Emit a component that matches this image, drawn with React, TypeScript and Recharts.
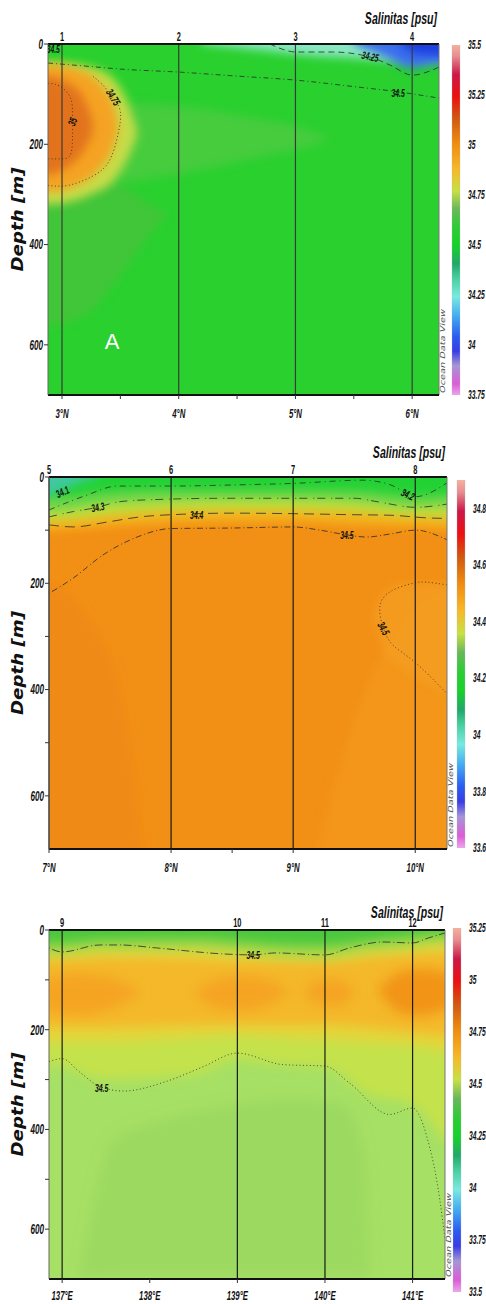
import React from 'react'
import { ComposedChart, Area, Line, Scatter, XAxis, YAxis, ReferenceLine, BarChart, Bar } from 'recharts'

// ---------- section 1 : 3°N – 6°N ----------
const p1Stations = [3, 4, 5, 6]
const p1StationIds = ['1', '2', '3', '4']
const p1XTicks = [3, 3.5, 4, 4.5, 5, 5.5, 6]
const p1DepthTicks = [0, 200, 400, 600]
const p1ScaleTicks = [33.75, 34, 34.25, 34.5, 34.75, 35, 35.25, 35.5]
const p1Range = [33.75, 35.5]

// field patches (x in °N, depths in m)
const p1DeepX = [2.6, 2.88, 3.2, 3.5, 3.75, 3.9]
const p1DeepTop = [260, 260, 260, 280, 320, 340]
const p1DeepBot = [560, 560, 540, 460, 380, 340]
const p1TongueX = [3.3, 3.7, 4.2, 4.7, 5.1, 5.3]
const p1TongueTop = [120, 120, 130, 150, 170, 190]
const p1TongueBot = [280, 270, 250, 225, 205, 190]
const p1BlobX = [2.6, 2.88, 3.25, 3.45, 3.56, 3.64]
const p1BlobTop = [36, 36, 46, 72, 115, 170]
const p1BlobBot = [320, 320, 300, 270, 230, 185]
const p1OrangeX = [2.6, 2.88, 3.15, 3.32, 3.44, 3.48]
const p1OrangeTop = [42, 42, 52, 78, 120, 160]
const p1OrangeBot = [295, 295, 280, 250, 205, 170]
const p1CoreX = [2.6, 2.88, 3.05, 3.18, 3.26]
const p1CoreTop = [65, 65, 78, 105, 150]
const p1CoreBot = [260, 260, 245, 215, 180]
const p1MintX = [4.2, 4.7, 5.1, 5.5, 5.9, 6.3, 6.6]
const p1MintBot = [0, 12, 22, 28, 34, 32, 32]
const p1BlueX = [5.5, 5.75, 6.0, 6.2, 6.6]
const p1BlueBot = [0, 24, 48, 40, 38]
const p1DeepBlueX = [5.9, 6.05, 6.25, 6.6]
const p1DeepBlueBot = [0, 20, 22, 22]

// isolines
const p1Iso345X = [2.88, 3.2, 3.5, 4.0, 4.5, 5.0, 5.5, 5.9, 6.23]
const p1Iso345D = [38, 44, 50, 56, 64, 72, 85, 96, 108]
const p1Iso3425X = [4.78, 5.01, 5.32, 5.64, 5.81, 6.0, 6.23]
const p1Iso3425D = [0, 16, 16, 26, 42, 62, 46]
const p1Iso3475X = [2.88, 3.05, 3.25, 3.4, 3.48, 3.5, 3.44, 3.35, 3.25]
const p1Iso3475D = [282, 282, 265, 235, 180, 135, 108, 82, 62]
const p1Iso35X = [2.88, 2.98, 3.07, 3.09, 3.09, 3.07, 3.0, 2.88]
const p1Iso35D = [78, 84, 106, 140, 190, 222, 229, 229]
const p1IsoLabels = [
  { x: 2.925, d: 10, t: '34.5', a: 0 },
  { x: 5.64, d: 25, t: '34.25', a: 12 },
  { x: 5.88, d: 97, t: '34.5', a: 0 },
  { x: 3.44, d: 106, t: '34.75', a: 58 },
  { x: 3.09, d: 155, t: '35', a: -70 },
]
const p1Note = [{ x: 3.43, d: 592, t: 'A' }]

// ---------- section 2 : 7°N – 10°N ----------
const p2Stations = [7, 8, 9, 10]
const p2StationIds = ['5', '6', '7', '8']
const p2XTicks = [7, 8, 8.5, 9, 10]
const p2DepthTicks = [0, 100, 200, 300, 400, 500, 600]
const p2ScaleTicks = [33.6, 33.8, 34, 34.2, 34.4, 34.6, 34.8]
const p2Range = [33.6, 34.9]

const p2LayerX = [6.8, 7.0, 7.5, 8.0, 8.5, 9.0, 9.5, 10.0, 10.5]
const p2YellowBot = [100, 100, 92, 86, 84, 84, 90, 94, 100]
const p2LimeBot = [82, 82, 72, 64, 62, 62, 66, 74, 78]
const p2LightGreenBot = [64, 64, 50, 44, 42, 42, 46, 56, 52]
const p2GreenBot = [38, 38, 28, 24, 24, 24, 26, 36, 26]
const p2TealX = [6.8, 7.0, 7.15, 7.3, 7.4]
const p2TealBot = [34, 34, 20, 6, 0]
const p2DarkX = [6.8, 7.0, 7.3, 7.6, 7.8]
const p2DarkTop = [200, 200, 260, 420, 760]
const p2PaleX = [9.2, 9.5, 9.8, 10.1, 10.5]
const p2PaleTop = [700, 450, 300, 220, 200]
const p2LoopX = [9.65, 9.75, 9.9, 10.1, 10.5]
const p2LoopTop = [260, 215, 200, 200, 200]
const p2LoopBot = [260, 330, 360, 390, 420]

const p2Iso342X = [7.0, 7.3, 7.56, 8.0, 8.5, 9.0, 9.57, 9.8, 9.94, 10.0, 10.26]
const p2Iso342D = [62, 35, 17, 17, 15, 12, 6, 15, 32, 37, 11]
const p2Iso343X = [7.0, 7.2, 7.4, 7.56, 7.8, 8.5, 9.0, 9.5, 9.7, 10.0, 10.26]
const p2Iso343D = [75, 65, 57, 47, 43, 40, 40, 40, 47, 57, 51]
const p2Iso344X = [7.0, 7.2, 7.47, 7.75, 8.1, 8.5, 9.0, 9.5, 9.8, 10.1, 10.26]
const p2Iso344D = [90, 94, 85, 75, 70, 68, 69, 71, 72, 77, 78]
const p2Iso345X = [7.0, 7.2, 7.44, 7.7, 8.0, 8.5, 9.0, 9.22, 9.44, 9.6, 9.8, 10.0, 10.26]
const p2Iso345D = [219, 190, 147, 115, 97, 96, 94, 100, 109, 113, 107, 100, 118]
const p2Iso345bX = [10.26, 10.1, 9.98, 9.8, 9.71, 9.74, 9.82, 10.0, 10.26]
const p2Iso345bD = [203, 198, 200, 215, 244, 285, 317, 349, 408]
const p2IsoLabels = [
  { x: 7.11, d: 28, t: '34.1', a: -25 },
  { x: 7.4, d: 57, t: '34.3', a: -10 },
  { x: 8.21, d: 71, t: '34.4', a: 0 },
  { x: 9.44, d: 109, t: '34.5', a: 0 },
  { x: 9.94, d: 33, t: '34.2', a: 25 },
  { x: 9.74, d: 285, t: '34.5', a: 62 },
]

// ---------- section 3 : 137°E – 141°E ----------
const p3Stations = [137, 139, 140, 141]
const p3StationIds = ['9', '10', '11', '12']
const p3XTicks = [137, 138, 139, 140, 141]
const p3DepthTicks = [0, 100, 200, 300, 400, 500, 600]
const p3ScaleTicks = [33.5, 33.75, 34, 34.25, 34.5, 34.75, 35, 35.25]
const p3Range = [33.5, 35.25]

const p3LayerX = [136.5, 136.85, 137.5, 138.5, 139.0, 139.5, 140.0, 140.5, 141.0, 141.37, 141.7]
const p3LimeBot = [270, 270, 300, 290, 260, 270, 275, 330, 350, 420, 460]
const p3YellowBot = [225, 225, 225, 215, 210, 215, 220, 225, 230, 240, 240]
const p3AmberTop = [60, 60, 55, 58, 62, 62, 62, 55, 48, 45, 45]
const p3AmberBot = [195, 195, 195, 190, 190, 190, 190, 195, 205, 210, 210]
const p3TopLimeBot = [50, 50, 40, 40, 46, 54, 56, 42, 34, 26, 26]
const p3TopGreenBot = [26, 28, 20, 18, 24, 30, 32, 22, 14, 8, 8]
const p3DeepX = [137.2, 137.6, 138.2, 139.0, 139.6, 140.2, 140.45, 140.5]
const p3DeepTop = [700, 420, 380, 350, 340, 350, 450, 700]
const p3DeepBot = [700, 690, 690, 690, 690, 690, 690, 700]
const p3Core9X = [136.6, 136.9, 137.2, 137.6, 137.9]
const p3Core9Top = [125, 95, 88, 98, 125]
const p3Core9Bot = [125, 165, 170, 155, 125]
const p3Core10X = [138.5, 138.8, 139.05, 139.35, 139.6]
const p3Core10Top = [125, 98, 92, 100, 125]
const p3Core10Bot = [125, 158, 162, 150, 125]
const p3Core11X = [139.75, 139.95, 140.15, 140.35]
const p3Core11Top = [125, 100, 100, 125]
const p3Core11Bot = [125, 150, 152, 125]
const p3Core12X = [140.6, 140.85, 141.05, 141.3, 141.6]
const p3Core12Top = [120, 85, 78, 82, 110]
const p3Core12Bot = [120, 165, 172, 165, 130]

const p3IsoTopX = [136.85, 137.0, 137.43, 137.66, 138.08, 138.84, 139.18, 139.43, 140.0, 140.28, 140.66, 141.0, 141.18, 141.37]
const p3IsoTopD = [36, 44, 30, 30, 36, 48, 50, 46, 50, 36, 24, 26, 16, 6]
const p3IsoDeepX = [136.85, 137.0, 137.2, 137.43, 137.7, 138.2, 138.6, 139.0, 139.52, 140.0, 140.28, 140.74, 141.0, 141.16, 141.31, 141.37]
const p3IsoDeepD = [264, 258, 285, 314, 323, 303, 275, 247, 270, 273, 307, 370, 357, 413, 540, 620]
const p3IsoLabels = [
  { x: 139.18, d: 50, t: '34.5', a: 0 },
  { x: 137.45, d: 318, t: '34.5', a: 0 },
]

// ODV-like colour ramp, fraction measured from the bottom of the bar
const ramp: [number, string][] = [
  [0.0, '#f3d3f3'], [0.05, '#dc5cd8'], [0.1, '#a596d6'], [0.14, '#3a3ce6'],
  [0.18, '#2a5cf0'], [0.24, '#46b0f2'], [0.29, '#78eae0'], [0.34, '#48cfa0'],
  [0.38, '#22a86a'], [0.43, '#16d22a'], [0.48, '#2ccc34'], [0.53, '#68b85a'],
  [0.58, '#c8e044'], [0.64, '#f6b828'], [0.71, '#f08c10'], [0.78, '#d05810'],
  [0.84, '#ee1010'], [0.9, '#cc1848'], [0.95, '#e88c90'], [1.0, '#fbc7a4'],
]

const TXT = "'Liberation Sans', Arial, sans-serif"
const SURFACE = -40

const patch = (x: number[], top: number[], bot: number[]) =>
  x.map((v, i) => ({ x: v, r: [top[i], bot[i]] }))
const fromSurface = (x: number[], bot: number[]) =>
  x.map((v, i) => ({ x: v, r: [SURFACE, bot[i]] }))
const toDeep = (x: number[], top: number[]) =>
  x.map((v, i) => ({ x: v, r: [top[i], 760] }))
const iso = (x: number[], d: number[]) => x.map((v, i) => ({ x: v, d: d[i] }))

function Sq(props: any) {
  const { x, y, text, anchor = 'middle', size = 13, dy = 0, sx = 0.6, fill = '#111', rotate = 0, italic = true } = props
  return (
    <text
      transform={`translate(${x},${y}) rotate(${rotate}) scale(${sx},1)`}
      textAnchor={anchor}
      dy={dy}
      fontFamily={TXT}
      fontSize={size}
      fontWeight="bold"
      fontStyle={italic ? 'italic' : 'normal'}
      fill={fill}
    >
      {text}
    </text>
  )
}

const IsoTag = (p: any) => (
  <Sq x={p.cx} y={p.cy} text={p.payload.t} rotate={p.payload.a} size={11} dy="0.35em" sx={0.62} />
)

const NoteTag = (p: any) => (
  <text x={p.cx} y={p.cy} dy="0.35em" textAnchor="middle" fontFamily={TXT} fontSize={22} fill="#ffffff">
    {p.payload.t}
  </text>
)

const ScaleShape = (p: any) => {
  const { x, y, width, height, gid } = p
  const pts = `${x},${y} ${x + width / 2},${y - 7} ${x + width},${y} ${x + width},${y + height} ${x + width / 2},${y + height + 7} ${x},${y + height}`
  return <polygon points={pts} fill={`url(#${gid})`} stroke="#bbb" strokeWidth={0.3} />
}

function Section({ c }: { c: any }) {
  const [x0, x1] = c.xDomain
  const soft = `url(#soft-${c.id})`
  const cbWidth = 486 - c.cb.left
  return (
    <div style={{ position: 'absolute', left: 0, top: c.top, width: 486, height: c.height }}>
      <ComposedChart width={486} height={c.height} margin={c.margin}>
        <defs>
          <filter id={`soft-${c.id}`} x="-50%" y="-50%" width="200%" height="200%">
            <feGaussianBlur stdDeviation={c.blur} />
          </filter>
        </defs>
        <XAxis
          type="number"
          dataKey="x"
          domain={c.xDomain}
          ticks={c.xTicks}
          interval={0}
          allowDataOverflow
          height={20}
          tickSize={4}
          tickMargin={c.xTickMargin}
          tickLine={{ stroke: '#333' }}
          axisLine={{ stroke: '#111', strokeWidth: 2 }}
          tick={(p: any) => {
            const v = p.payload.value
            if (!Number.isInteger(v)) return <g />
            return <Sq x={p.x} y={p.y} text={`${v}°${c.hemi}`} dy="0.71em" size={13} />
          }}
        />
        <YAxis
          type="number"
          dataKey="d"
          reversed
          domain={[0, 700]}
          ticks={c.yTicks}
          interval={0}
          allowDataOverflow
          width={c.yWidth}
          tickSize={4}
          tickMargin={1}
          tickLine={{ stroke: '#333' }}
          axisLine={{ stroke: '#666' }}
          tick={(p: any) => {
            const v = p.payload.value
            if (v % 200 !== 0) return <g />
            return <Sq x={p.x} y={p.y} text={String(v)} anchor="end" dy="0.35em" size={14} sx={0.58} />
          }}
          label={(p: any) => {
            const vb = p.viewBox || { x: 0, y: c.margin.top, width: c.yWidth, height: 350 }
            const cy = vb.y + vb.height / 2
            return (
              <text
                transform={`translate(${vb.x + 23},${cy}) rotate(-90)`}
                textAnchor="middle"
                fontFamily="'DejaVu Sans', sans-serif"
                fontWeight="bold"
                fontStyle="italic"
                fontSize={15}
                textLength={104}
                lengthAdjust="spacingAndGlyphs"
                fill="#111"
              >
                Depth [m]
              </text>
            )
          }}
        />
        <Area
          data={patch([x0 - 1, x1 + 1], [SURFACE, SURFACE], [760, 760])}
          dataKey="r"
          fill={c.base}
          fillOpacity={1}
          stroke="none"
          dot={false}
          activeDot={false}
          isAnimationActive={false}
        />
        {c.bands.map((b: any, i: number) => (
          <Area
            key={`b${i}`}
            data={b.data}
            dataKey="r"
            type="monotone"
            fill={b.fill}
            fillOpacity={b.op ?? 1}
            stroke="none"
            filter={soft}
            dot={false}
            activeDot={false}
            isAnimationActive={false}
          />
        ))}
        {c.isolines.map((k: any, i: number) => (
          <Line
            key={`l${i}`}
            data={k.data}
            dataKey="d"
            type={k.loop ? 'natural' : 'monotone'}
            stroke="#2a2a2a"
            strokeWidth={0.8}
            strokeDasharray={k.dash}
            dot={false}
            activeDot={false}
            isAnimationActive={false}
          />
        ))}
        {c.stations.map((s: number, i: number) => (
          <ReferenceLine
            key={`s${i}`}
            x={s}
            stroke={c.stationColor}
            strokeWidth={1.2}
            label={(p: any) => {
              const vb = p.viewBox || { x: 0, y: 0 }
              return <Sq x={vb.x} y={vb.y - 3} text={c.stationIds[i]} size={12} sx={0.62} italic={false} />
            }}
          />
        ))}
        <ReferenceLine
          y={0}
          stroke="#111"
          strokeWidth={2}
          label={(p: any) => {
            const vb = p.viewBox || { x: 48, y: 44, width: 390 }
            return <Sq x={vb.x + vb.width - 2} y={vb.y - c.titleGap} text="Salinitas [psu]" anchor="end" size={16} sx={0.66} />
          }}
        />
        <ReferenceLine
          x={x1}
          stroke="#777"
          strokeWidth={1}
          label={(p: any) => {
            const vb = p.viewBox || { x: 440, y: 44, height: 350 }
            return (
              <text
                transform={`translate(${vb.x + 6},${vb.y + vb.height - 2}) rotate(-90)`}
                textAnchor="start"
                fontFamily="'DejaVu Sans', sans-serif"
                fontStyle="italic"
                fontSize={7}
                textLength={84}
                lengthAdjust="spacingAndGlyphs"
                fill="#555"
              >
                Ocean Data View
              </text>
            )
          }}
        />
        <Scatter data={c.labels} dataKey="d" shape={IsoTag} isAnimationActive={false} />
        {c.note ? <Scatter data={c.note} dataKey="d" shape={NoteTag} isAnimationActive={false} /> : null}
      </ComposedChart>
      <div style={{ position: 'absolute', left: c.cb.left, top: 0 }}>
        <BarChart
          width={cbWidth}
          height={c.height}
          margin={{ top: c.cb.mt, right: 0, bottom: c.cb.mb, left: 0 }}
          data={[{ k: 's', v: c.cb.range }]}
          barCategoryGap={0}
        >
          <defs>
            <linearGradient id={`ramp-${c.id}`} x1="0" y1="0" x2="0" y2="1">
              {[...ramp].reverse().map(([f, col], i) => (
                <stop key={i} offset={`${(1 - f) * 100}%`} stopColor={col} />
              ))}
            </linearGradient>
          </defs>
          <XAxis dataKey="k" hide />
          <YAxis
            orientation="right"
            type="number"
            width={cbWidth - 12}
            domain={c.cb.range}
            ticks={c.cb.ticks}
            interval={0}
            allowDataOverflow
            axisLine={false}
            tickLine={false}
            tickMargin={0}
            tick={(p: any) => (
              <Sq x={p.x} y={p.y} text={String(p.payload.value)} anchor="start" dy="0.35em" size={12} sx={0.56} />
            )}
          />
          <Bar
            dataKey="v"
            barSize={8}
            isAnimationActive={false}
            shape={(p: any) => <ScaleShape {...p} gid={`ramp-${c.id}`} />}
          />
        </BarChart>
      </div>
    </div>
  )
}

const sections = [
  {
    id: 'a', top: 0, height: 430, hemi: 'N',
    margin: { top: 44, right: 47, bottom: 15, left: 0 }, yWidth: 48, xTickMargin: 10,
    xDomain: [2.88, 6.23], xTicks: p1XTicks, yTicks: p1DepthTicks,
    stations: p1Stations, stationIds: p1StationIds, stationColor: '#3a3a3a',
    titleGap: 20, base: '#29d02e', blur: 5,
    bands: [
      { data: patch(p1DeepX, p1DeepTop, p1DeepBot), fill: '#48c23c', op: 0.8 },
      { data: patch(p1TongueX, p1TongueTop, p1TongueBot), fill: '#5ec84c', op: 0.55 },
      { data: patch(p1BlobX, p1BlobTop, p1BlobBot), fill: '#c6dc4a' },
      { data: patch(p1OrangeX, p1OrangeTop, p1OrangeBot), fill: '#f5a323' },
      { data: patch(p1CoreX, p1CoreTop, p1CoreBot), fill: '#e2731a' },
      { data: fromSurface(p1MintX, p1MintBot), fill: '#8be8c4' },
      { data: fromSurface(p1BlueX, p1BlueBot), fill: '#3a70ec' },
      { data: fromSurface(p1DeepBlueX, p1DeepBlueBot), fill: '#1a3ce0' },
    ],
    isolines: [
      { data: iso(p1Iso345X, p1Iso345D), dash: '5 3 1 3' },
      { data: iso(p1Iso3425X, p1Iso3425D), dash: '6 4' },
      { data: iso(p1Iso3475X, p1Iso3475D), dash: '1 2.5', loop: true },
      { data: iso(p1Iso35X, p1Iso35D), dash: '1 2.5', loop: true },
    ],
    labels: p1IsoLabels, note: p1Note,
    cb: { left: 450, mt: 45, mb: 35, range: p1Range, ticks: p1ScaleTicks },
  },
  {
    id: 'b', top: 440, height: 440, hemi: 'N',
    margin: { top: 37, right: 39, bottom: 11, left: 0 }, yWidth: 49, xTickMargin: 10,
    xDomain: [7, 10.26], xTicks: p2XTicks, yTicks: p2DepthTicks,
    stations: p2Stations, stationIds: p2StationIds, stationColor: '#1a1a1a',
    titleGap: 19, base: '#f28f15', blur: 5,
    bands: [
      { data: toDeep(p2DarkX, p2DarkTop), fill: '#ea8211', op: 0.4 },
      { data: toDeep(p2PaleX, p2PaleTop), fill: '#f49818', op: 0.7 },
      { data: patch(p2LoopX, p2LoopTop, p2LoopBot), fill: '#f59e1e', op: 0.8 },
      { data: fromSurface(p2LayerX, p2YellowBot), fill: '#f4b21e' },
      { data: fromSurface(p2LayerX, p2LimeBot), fill: '#bedd3e' },
      { data: fromSurface(p2LayerX, p2LightGreenBot), fill: '#6ed64a' },
      { data: fromSurface(p2LayerX, p2GreenBot), fill: '#22d236' },
      { data: fromSurface(p2TealX, p2TealBot), fill: '#40c8a0' },
    ],
    isolines: [
      { data: iso(p2Iso342X, p2Iso342D), dash: '6 4 1 4' },
      { data: iso(p2Iso343X, p2Iso343D), dash: '8 6 1 3' },
      { data: iso(p2Iso344X, p2Iso344D), dash: '10 6' },
      { data: iso(p2Iso345X, p2Iso345D), dash: '1 2.5 6 3' },
      { data: iso(p2Iso345bX, p2Iso345bD), dash: '1 2.5', loop: true },
    ],
    labels: p2IsoLabels,
    cb: { left: 455, mt: 40, mb: 32, range: p2Range, ticks: p2ScaleTicks },
  },
  {
    id: 'c', top: 880, height: 424, hemi: 'E',
    margin: { top: 50, right: 41, bottom: 5, left: 0 }, yWidth: 49, xTickMargin: 8,
    xDomain: [136.85, 141.37], xTicks: p3XTicks, yTicks: p3DepthTicks,
    stations: p3Stations, stationIds: p3StationIds, stationColor: '#1a1a1a',
    titleGap: 12, base: '#a6e064', blur: 6,
    bands: [
      { data: patch(p3DeepX, p3DeepTop, p3DeepBot), fill: '#9cd960' },
      { data: fromSurface(p3LayerX, p3LimeBot), fill: '#c4e24c' },
      { data: fromSurface(p3LayerX, p3YellowBot), fill: '#e4d63a' },
      { data: patch(p3LayerX, p3AmberTop, p3AmberBot), fill: '#f4b82a' },
      { data: patch(p3Core9X, p3Core9Top, p3Core9Bot), fill: '#f5a420' },
      { data: patch(p3Core10X, p3Core10Top, p3Core10Bot), fill: '#f5a420' },
      { data: patch(p3Core11X, p3Core11Top, p3Core11Bot), fill: '#f5a420' },
      { data: patch(p3Core12X, p3Core12Top, p3Core12Bot), fill: '#f29418' },
      { data: fromSurface(p3LayerX, p3TopLimeBot), fill: '#a8d84a' },
      { data: fromSurface(p3LayerX, p3TopGreenBot), fill: '#48c83e' },
    ],
    isolines: [
      { data: iso(p3IsoTopX, p3IsoTopD), dash: '1 2.5 8 3' },
      { data: iso(p3IsoDeepX, p3IsoDeepD), dash: '1 2.5' },
    ],
    labels: p3IsoLabels,
    cb: { left: 451, mt: 48, mb: 12, range: p3Range, ticks: p3ScaleTicks },
  },
]

export default function App() {
  return (
    <div style={{ position: 'absolute', left: 0, top: 0, width: 486, height: 1304, background: '#fff' }}>
      {sections.map((c) => (
        <Section key={c.id} c={c} />
      ))}
    </div>
  )
}
